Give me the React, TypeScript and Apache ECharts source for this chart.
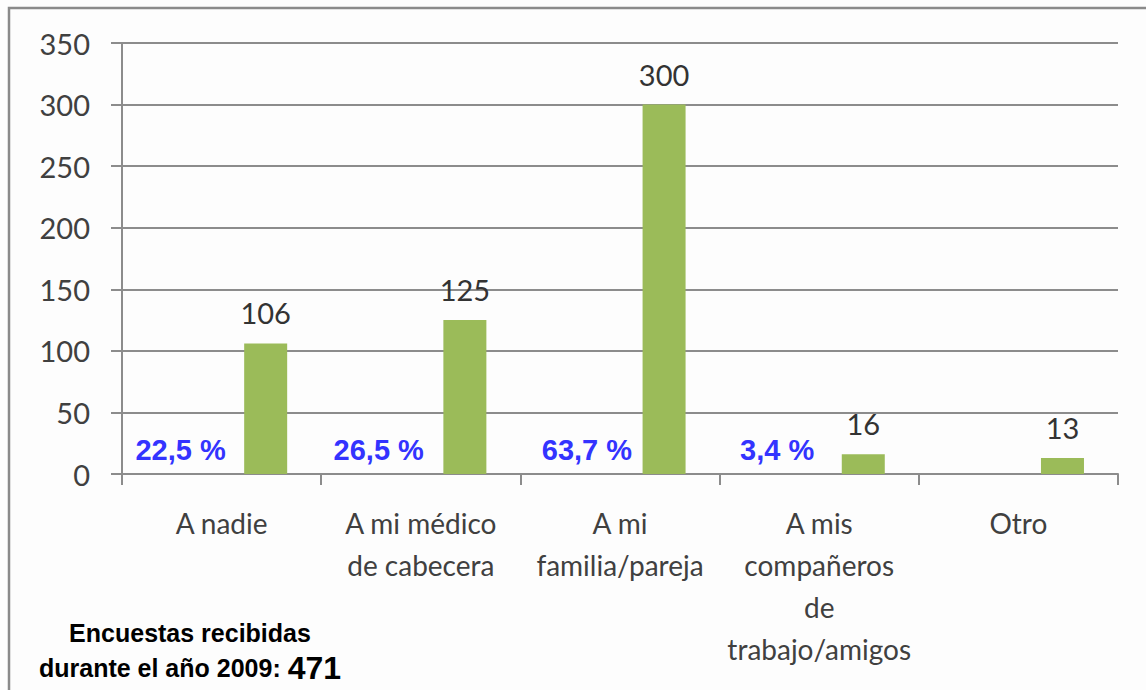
import React, { useEffect, useRef } from "react";
import * as echarts from "echarts";

const categories = [
  "A nadie",
  "A mi médico\nde cabecera",
  "A mi\nfamilia/pareja",
  "A mis\ncompañeros\nde\ntrabajo/amigos",
  "Otro",
];
const counts = [106, 125, 300, 16, 13];
const percents = [22.5, 26.5, 63.7, 3.4, null];
const yTicks = { min: 0, max: 350, interval: 50 };
const noteLine1 = "Encuestas recibidas";
const noteLine2 = "durante el año 2009: ";
const totalSurveys = 471;

// horizontal nudges of the percentage text boxes (layout only)
const pctLabelNudge = [3, 2, 11, 2, 0];

export default function App() {
  const ref = useRef<HTMLDivElement>(null);
  useEffect(() => {
    if (!ref.current) return;
    const chart = echarts.init(ref.current, null, { renderer: "svg" });
    const axisFont = "Lato, 'Open Sans', sans-serif";
    chart.setOption({
      animation: false,
      backgroundColor: "#fdfdfd",
      grid: { left: 122, right: 28, top: 43, bottom: 216 },
      xAxis: {
        type: "category",
        data: categories,
        boundaryGap: true,
        axisLine: { lineStyle: { color: "#8c8c8c", width: 2 } },
        axisTick: { show: true, length: 11, lineStyle: { color: "#8c8c8c", width: 2 } },
        axisLabel: {
          interval: 0,
          margin: 28,
          color: "#404040",
          fontFamily: axisFont,
          fontSize: 28,
          lineHeight: 42,
        },
      },
      yAxis: {
        type: "value",
        min: yTicks.min,
        max: yTicks.max,
        interval: yTicks.interval,
        axisLine: { show: true, lineStyle: { color: "#8c8c8c", width: 2 } },
        axisTick: { show: true, length: 11, lineStyle: { color: "#8c8c8c", width: 2 } },
        splitLine: { show: true, lineStyle: { color: "#8c8c8c", width: 2 } },
        axisLabel: {
          margin: 32,
          color: "#404040",
          fontFamily: axisFont,
          fontSize: 29,
        },
      },
      series: [
        {
          type: "bar",
          barWidth: 43,
          barGap: "105%",
          data: percents.map((p, i) =>
            p == null
              ? null
              : { value: 0, label: { offset: [pctLabelNudge[i], 0] } }
          ),
          itemStyle: { color: "rgba(0,0,0,0)" },
          label: {
            show: true,
            position: "top",
            distance: 10,
            formatter: (p: any) => {
              const v = percents[p.dataIndex];
              return v == null ? "" : v.toFixed(1).replace(".", ",") + " %";
            },
            color: "#3333ff",
            fontFamily: "'Liberation Sans', Arial, sans-serif",
            fontWeight: "bold",
            fontSize: 29,
          },
        },
        {
          type: "bar",
          barWidth: 43,
          barGap: "105%",
          data: counts,
          itemStyle: { color: "#9bbb59" },
          label: {
            show: true,
            position: "top",
            distance: 16,
            color: "#333333",
            fontFamily: axisFont,
            fontSize: 29,
          },
        },
      ],
      graphic: [
        {
          type: "rect",
          shape: { x: 9, y: 8, width: 1160, height: 720 },
          style: { fill: "none", stroke: "#8a8a8a", lineWidth: 2.5 },
          silent: true,
        },
        {
          type: "text",
          x: 190,
          y: 633,
          style: {
            text: noteLine1,
            textAlign: "center",
            textVerticalAlign: "middle",
            fill: "#000",
            font: "bold 25px 'Liberation Sans', Arial, sans-serif",
          },
        },
        {
          type: "text",
          x: 190,
          y: 668,
          style: {
            text: "{a|" + noteLine2 + "}{b|" + totalSurveys + "}",
            textAlign: "center",
            textVerticalAlign: "middle",
            rich: {
              a: {
                fontFamily: "'Liberation Sans', Arial, sans-serif",
                fontWeight: "bold",
                fontSize: 25,
                fill: "#000",
                color: "#000",
              },
              b: {
                fontFamily: "'Liberation Sans', Arial, sans-serif",
                fontWeight: "bold",
                fontSize: 32,
                fill: "#000",
                color: "#000",
              },
            },
          },
        },
      ],
    });
    return () => chart.dispose();
  }, []);
  return (
    <div
      ref={ref}
      style={{ position: "absolute", left: 0, top: 0, width: 1146, height: 690 }}
    />
  );
}
